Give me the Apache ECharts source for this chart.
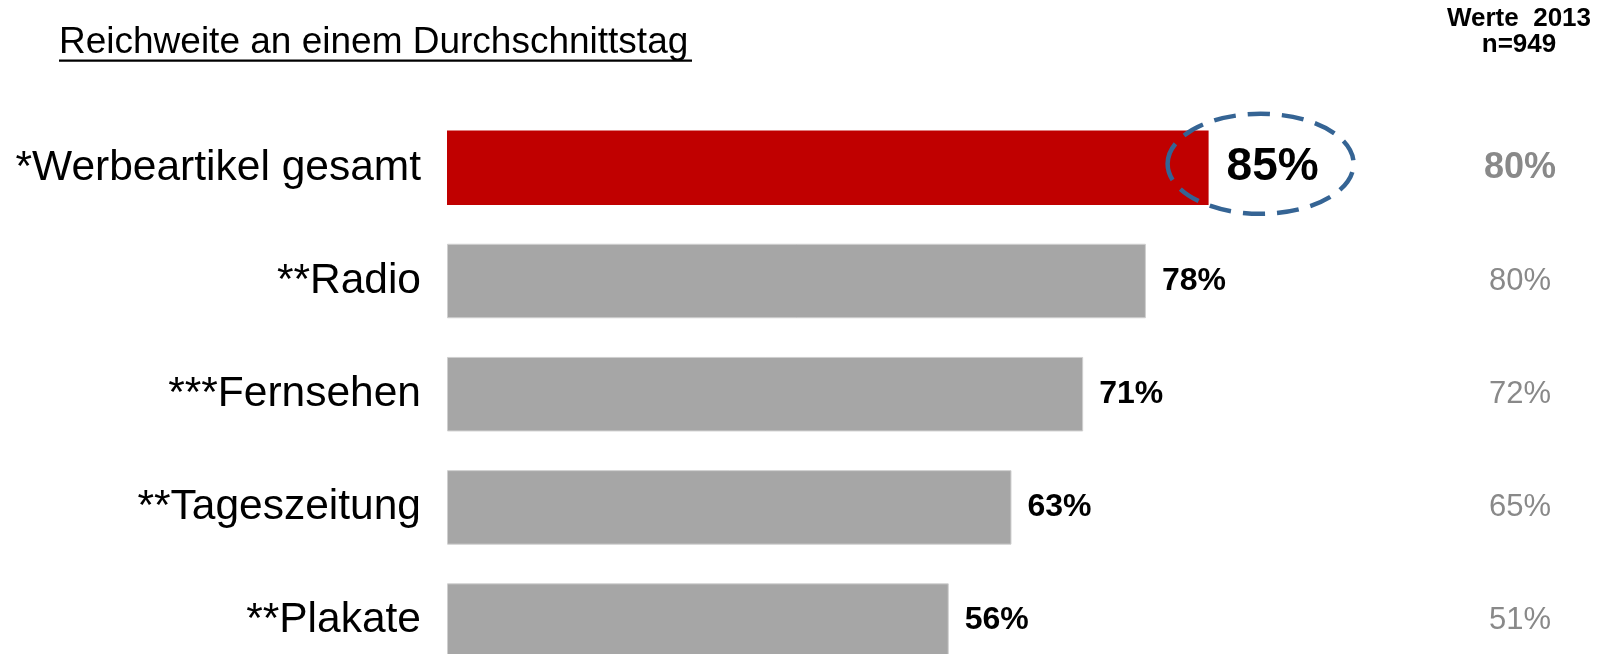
<!DOCTYPE html>
<html>
<head>
<meta charset="utf-8">
<script src="https://cdn.jsdelivr.net/npm/echarts@6/dist/echarts.min.js"></script>
<style>
html,body{margin:0;padding:0;overflow:hidden;background:#fff;}
#c{width:1599px;height:700px;}
</style>
</head>
<body>
<div id="c"></div>
<script>
const categories = ['*Werbeartikel gesamt', '**Radio', '***Fernsehen', '**Tageszeitung', '**Plakate'];
const values2015 = [85, 78, 71, 63, 56];
const values2013 = [80, 80, 72, 65, 51];
const titleText = 'Reichweite an einem Durchschnittstag';
const headerText = 'Werte  2013\nn=949';

const FONT = "'Liberation Sans', Arial, sans-serif";
const chart = echarts.init(document.getElementById('c'), null, {renderer: 'canvas'});

const barData = values2015.map((v, i) => {
  if (i === 0) {
    return {
      value: v,
      itemStyle: {color: '#C00000', borderWidth: 0},
      label: {fontSize: 46, distance: 18}
    };
  }
  return {value: v};
});

const option = {
  animation: false,
  backgroundColor: '#fff',
  textStyle: {fontFamily: FONT},
  title: [
    {
      text: titleText,
      left: 59, top: 24, padding: 0,
      textStyle: {fontFamily: FONT, fontSize: 37, fontWeight: 'normal', color: '#000', lineHeight: 37}
    },
    {
      text: headerText,
      left: 1519, top: 6, padding: 0, textAlign: 'center',
      textStyle: {fontFamily: FONT, fontSize: 26, fontWeight: 'bold', color: '#000', lineHeight: 26}
    }
  ],
  grid: {left: 447, right: 256, top: 111.2, height: 566, containLabel: false},
  xAxis: {type: 'value', min: 0, max: 100, show: false},
  yAxis: [
    {
      type: 'category', data: categories, inverse: true,
      axisLine: {show: false}, axisTick: {show: false}, splitLine: {show: false},
      axisLabel: {fontFamily: FONT, fontSize: 42.5, color: '#000', margin: 26, padding: [0, 0, 8, 0]}
    },
    {
      type: 'category', data: values2013.map(v => v + '%'), inverse: true, position: 'right',
      axisLine: {show: false}, axisTick: {show: false}, splitLine: {show: false},
      axisLabel: {
        margin: 177, align: 'center',
        formatter: (val, idx) => idx === 0 ? '{b|' + val + '}' : '{n|' + val + '}',
        rich: {
          b: {fontFamily: FONT, fontSize: 36, fontWeight: 'bold', color: '#898989'},
          n: {fontFamily: FONT, fontSize: 31, fontWeight: 'normal', color: '#898989'}
        }
      }
    }
  ],
  series: [
    {
      type: 'bar', yAxisIndex: 0, data: barData, barWidth: 74.5,
      itemStyle: {color: '#A6A6A6', borderColor: '#CFCFCF', borderWidth: 1},
      label: {
        show: true, position: 'right', distance: 16,
        formatter: '{c}%', padding: [3, 0, 0, 0],
        fontFamily: FONT, fontSize: 32, fontWeight: 'bold', color: '#000'
      }
    }
  ]
};
chart.setOption(option);

// dashed ellipse highlighting the first bar's value, anchored to the data
const p = chart.convertToPixel({seriesIndex: 0}, [values2015[0], 0]);
chart.setOption({
  graphic: [
    {
      type: 'rect',
      shape: {x: 59, y: 59.5, width: 633, height: 2.2},
      style: {fill: '#000'}
    },
    {
      type: 'ellipse',
      shape: {cx: p[0] + 52, cy: p[1] - 4, rx: 93, ry: 50},
      style: {fill: 'none', stroke: '#356494', lineWidth: 4.5, lineDash: [22, 12]},
      z: 100
    }
  ]
});
</script>
</body>
</html>
